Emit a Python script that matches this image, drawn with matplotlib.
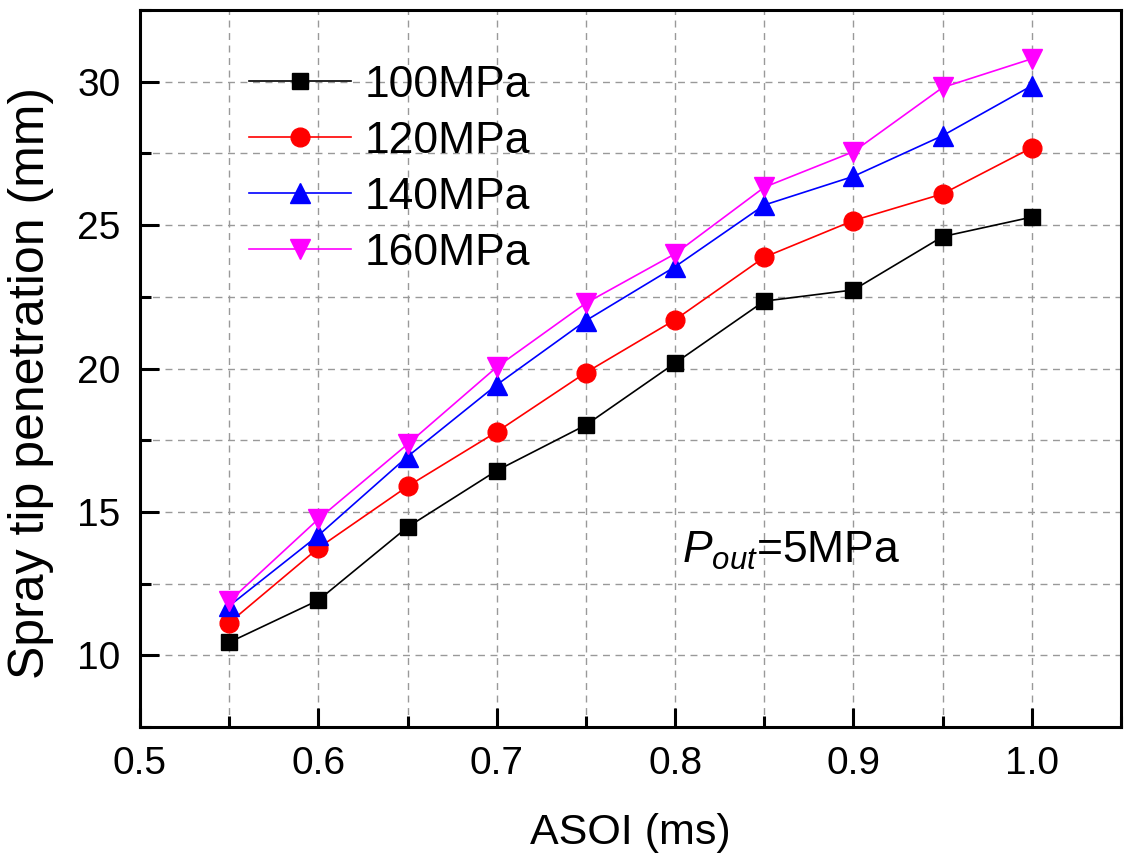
import numpy as np
import matplotlib.pyplot as plt
from matplotlib.ticker import MultipleLocator

plt.rcParams['font.family'] = ['Liberation Sans', 'DejaVu Sans']
plt.rcParams['mathtext.fontset'] = 'custom'
plt.rcParams['mathtext.rm'] = 'Liberation Sans'
plt.rcParams['mathtext.it'] = 'Liberation Sans:italic'

# ASOI (ms) and spray tip penetration (mm) at each injection pressure
asoi = [0.55, 0.60, 0.65, 0.70, 0.75, 0.80, 0.85, 0.90, 0.95, 1.00]
pen_100 = [10.45, 11.92, 14.47, 16.44, 18.03, 20.19, 22.35, 22.74, 24.60, 25.28]
pen_120 = [11.13, 13.74, 15.89, 17.79, 19.86, 21.70, 23.88, 25.16, 26.09, 27.70]
pen_140 = [11.72, 14.18, 16.93, 19.43, 21.67, 23.55, 25.70, 26.70, 28.12, 29.86]
pen_160 = [11.88, 14.75, 17.36, 20.05, 22.28, 24.00, 26.32, 27.56, 29.80, 30.80]

labels = ['100MPa', '120MPa', '140MPa', '160MPa']
colors = ['black', 'red', 'blue', 'magenta']
markers = ['s', 'o', '^', 'v']
msizes = [12, 13.5, 14.5, 14.5]

fig = plt.figure(figsize=(11.27, 8.57), dpi=100)
ax = fig.add_axes([0.1242, 0.1517, 0.8705, 0.8366])

for ys, lab, c, m, ms in zip([pen_100, pen_120, pen_140, pen_160],
                             labels, colors, markers, msizes):
    ax.plot(asoi, ys, color=c, marker=m, markersize=ms, linewidth=1.2,
            markeredgecolor=c, label=lab, zorder=3)

ax.set_xlim(0.5, 1.05)
ax.set_ylim(7.5, 32.5)
ax.xaxis.set_major_locator(MultipleLocator(0.1))
ax.xaxis.set_minor_locator(MultipleLocator(0.05))
ax.yaxis.set_major_locator(MultipleLocator(5))
ax.yaxis.set_minor_locator(MultipleLocator(2.5))
ax.xaxis.set_major_formatter(plt.FormatStrFormatter('%.1f'))

ax.grid(which='both', color='#999999', linestyle=(0, (5, 4)), linewidth=1.0)
ax.set_axisbelow(True)

for side in ['left', 'bottom', 'right', 'top']:
    ax.spines[side].set_linewidth(2.2)
ax.tick_params(which='major', direction='in', length=14, width=2.2,
               labelsize=28, pad=14, top=False, right=False)
ax.tick_params(which='minor', direction='in', length=8, width=2.2,
               top=False, right=False)

ax.set_xlabel('ASOI (ms)', fontsize=31, labelpad=22)
ax.set_ylabel('Spray tip penetration (mm)', fontsize=36)
ax.yaxis.set_label_coords(-0.088, 0.48)

ax.text(0.804, 13.23, r'$P_{out}$=5MPa', fontsize=32, ha='left', va='baseline')

ax.legend(loc='upper left', bbox_to_anchor=(0.111, 0.924), frameon=False,
          fontsize=32, handlelength=2.3, handletextpad=0.3,
          labelspacing=0.34, borderpad=0, borderaxespad=0)

fig.savefig('out.png', dpi=100)
